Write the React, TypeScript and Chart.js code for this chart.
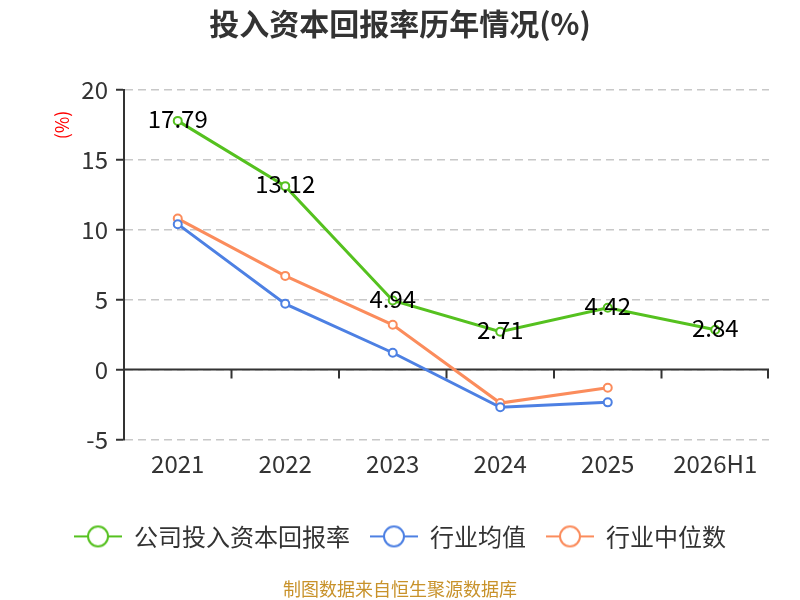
import React, { useEffect, useRef } from 'react'
import Chart from 'chart.js/auto'

const years = ['2021', '2022', '2023', '2024', '2025', '2026H1']
const companyRoic = [17.79, 13.12, 4.94, 2.71, 4.42, 2.84]
const industryAvg = [10.4, 4.7, 1.2, -2.7, -2.35, null]
const industryMedian = [10.8, 6.7, 3.2, -2.4, -1.3, null]
const yTicks = [-5, 0, 5, 10, 15, 20]

const GREEN = '#55c11f'
const BLUE = '#4d80e3'
const ORANGE = '#fb8c5c'
const FONT = '"Noto Sans CJK SC", "Noto Sans", sans-serif'

function legendIcon(color: string) {
  const c = document.createElement('canvas')
  c.width = 48
  c.height = 26
  const ctx = c.getContext('2d')!
  ctx.strokeStyle = color
  ctx.lineWidth = 2
  ctx.beginPath()
  ctx.moveTo(0, 13)
  ctx.lineTo(48, 13)
  ctx.stroke()
  ctx.beginPath()
  ctx.arc(24, 13, 10, 0, Math.PI * 2)
  ctx.fillStyle = '#fff'
  ctx.fill()
  ctx.stroke()
  return c
}

const zeroAxis = {
  id: 'zeroAxis',
  beforeDatasetsDraw(chart: any) {
    const { ctx, chartArea, scales } = chart
    const y0 = scales.y.getPixelForValue(0)
    const half = (scales.x.getPixelForValue(1) - scales.x.getPixelForValue(0)) / 2
    ctx.save()
    ctx.strokeStyle = '#333'
    ctx.lineWidth = 2
    ctx.beginPath()
    ctx.moveTo(chartArea.left, y0)
    ctx.lineTo(chartArea.right, y0)
    for (let i = 0; i < years.length; i++) {
      const x = Math.min(scales.x.getPixelForValue(i) + half, chartArea.right - 1)
      ctx.moveTo(x, y0)
      ctx.lineTo(x, y0 + 9)
    }
    ctx.stroke()
    // unit label
    ctx.translate(chartArea.left - 62, chartArea.top + 35)
    ctx.rotate(-Math.PI / 2)
    ctx.fillStyle = '#ff0000'
    ctx.font = `18px ${FONT}`
    ctx.textAlign = 'center'
    ctx.textBaseline = 'middle'
    ctx.fillText('(%)', 0, 0)
    ctx.restore()
  },
}

const valueLabels = {
  id: 'valueLabels',
  afterDatasetsDraw(chart: any) {
    const { ctx } = chart
    const meta = chart.getDatasetMeta(0)
    ctx.save()
    ctx.fillStyle = '#000'
    ctx.font = `24px ${FONT}`
    ctx.textAlign = 'center'
    ctx.textBaseline = 'middle'
    meta.data.forEach((pt: any, i: number) => {
      ctx.fillText(companyRoic[i].toFixed(2), pt.x, pt.y - 2)
    })
    ctx.restore()
  },
}

export default function App() {
  const chartRef = useRef<HTMLCanvasElement | null>(null)
  const chartInstance = useRef<Chart | null>(null)

  useEffect(() => {
    if (!chartRef.current) return
    const ctx = chartRef.current.getContext('2d')
    if (!ctx) return
    if (chartInstance.current) chartInstance.current.destroy()

    const series = [
      { label: '公司投入资本回报率', data: companyRoic, color: GREEN },
      { label: '行业均值', data: industryAvg, color: BLUE },
      { label: '行业中位数', data: industryMedian, color: ORANGE },
    ]
    const icons = series.map(s => legendIcon(s.color))

    chartInstance.current = new Chart(ctx, {
      type: 'line',
      data: {
        labels: years,
        datasets: series.map(s => ({
          label: s.label,
          data: s.data,
          borderColor: s.color,
          backgroundColor: '#fff',
          borderWidth: 3,
          pointStyle: 'circle',
          pointRadius: 4,
          pointBorderWidth: 2,
          pointBackgroundColor: '#fff',
          pointBorderColor: s.color,
          tension: 0,
          spanGaps: false,
        })),
      },
      options: {
        animation: false,
        responsive: true,
        maintainAspectRatio: false,
        layout: { padding: { left: 31, right: 31, top: 0, bottom: 0 } },
        scales: {
          x: {
            offset: true,
            grid: { display: false, drawTicks: false },
            border: { display: false },
            ticks: { color: '#333', font: { size: 24, family: FONT }, padding: 10 },
            afterFit: (axis: any) => {
              axis.height = 65
            },
          },
          y: {
            min: -5,
            max: 20,
            afterBuildTicks: (axis: any) => {
              axis.ticks = yTicks.map(v => ({ value: v }))
            },
            afterFit: (axis: any) => {
              axis.width = 93
            },
            border: { display: true, color: '#333', width: 2, dash: [8, 5] },
            grid: {
              color: '#c8c8c8',
              lineWidth: 1.5,
              tickLength: 8,
              tickColor: '#333',
              tickWidth: 2,
            },
            ticks: { color: '#333', font: { size: 24, family: FONT }, padding: 8 },
          },
        },
        plugins: {
          title: {
            display: true,
            text: '投入资本回报率历年情况(%)',
            color: '#333',
            font: { size: 30, weight: 'bold', family: FONT },
            padding: { top: 6, bottom: 48 },
          },
          subtitle: {
            display: true,
            position: 'bottom',
            text: '制图数据来自恒生聚源数据库',
            color: '#c8922a',
            font: { size: 18, family: FONT },
            padding: { top: 20, bottom: 0 },
          },
          legend: {
            position: 'bottom',
            labels: {
              color: '#333',
              font: { size: 24, family: FONT },
              usePointStyle: true,
              pointStyleWidth: 48,
              padding: 20,
              generateLabels: (chart: any) =>
                chart.data.datasets.map((ds: any, i: number) => ({
                  text: ds.label,
                  fontColor: '#333',
                  pointStyle: icons[i],
                  strokeStyle: ds.borderColor,
                  fillStyle: '#fff',
                  lineWidth: 0,
                  hidden: false,
                  datasetIndex: i,
                })),
            },
          },
          tooltip: { enabled: false },
        },
      },
      plugins: [zeroAxis, valueLabels],
    })

    return () => {
      if (chartInstance.current) {
        chartInstance.current.destroy()
        chartInstance.current = null
      }
    }
  }, [])

  return (
    <div style={{ position: 'fixed', left: 0, top: 0, width: 800, height: 600, background: '#fff' }}>
      <canvas ref={chartRef} />
    </div>
  )
}
